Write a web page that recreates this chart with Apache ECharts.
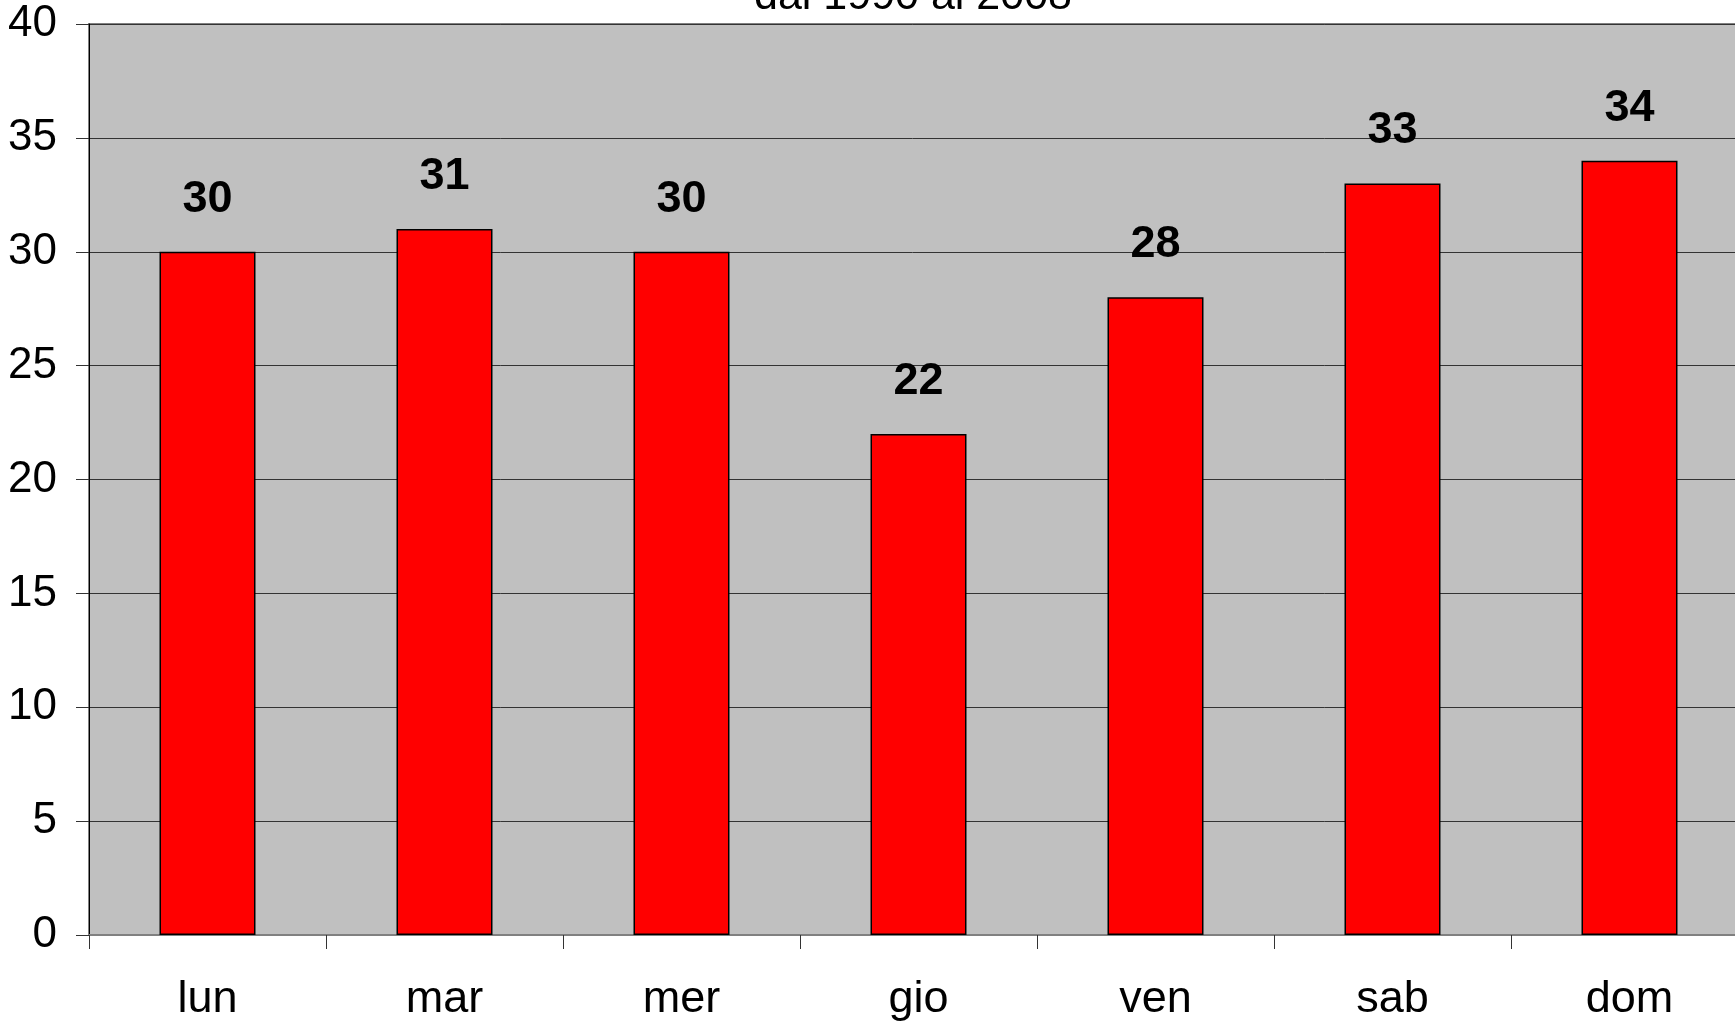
<!DOCTYPE html>
<html>
<head>
<meta charset="utf-8">
<script src="https://cdn.jsdelivr.net/npm/echarts@6/dist/echarts.min.js"></script>
<style>
  html, body { margin: 0; padding: 0; background: #fff; }
  #chart { width: 1735px; height: 1027px; }
</style>
</head>
<body>
<div id="chart"></div>
<script>
// giorni della settimana
var giorni = ["lun", "mar", "mer", "gio", "ven", "sab", "dom"];
var valori = [30, 31, 30, 22, 28, 33, 34];
var titolo = "dal 1990 al 2008";

var myChart = echarts.init(document.getElementById("chart"));
var option = {
  animation: false,
  backgroundColor: "#ffffff",
  title: {
    text: titolo,
    left: 908,
    top: -29,
    textAlign: "center",
    textStyle: {
      fontFamily: "Liberation Sans",
      fontWeight: "normal",
      fontSize: 43,
      color: "#000",
    },
  },
  grid: {
    left: 89,
    top: 24,
    right: -13,
    bottom: 92,
    outerBoundsMode: "none",
    show: true,
    backgroundColor: "#C0C0C0",
    borderColor: "#808080",
    borderWidth: 2,
  },
  xAxis: {
    type: "category",
    data: giorni,
    axisLine: { lineStyle: { color: "#808080", width: 2 } },
    axisTick: { show: true, length: 14, lineStyle: { color: "#333" } },
    axisLabel: {
      margin: 42,
      fontFamily: "Liberation Sans",
      fontSize: 45,
      color: "#000",
    },
  },
  yAxis: {
    type: "value",
    min: 0,
    max: 40,
    interval: 5,
    axisLine: { show: true, lineStyle: { color: "#000", width: 1 } },
    axisTick: { show: true, length: 13, lineStyle: { color: "#333" } },
    axisLabel: {
      margin: 32,
      fontFamily: "Liberation Sans",
      fontSize: 44,
      color: "#000",
    },
    splitLine: { show: true, lineStyle: { color: "#333", width: 1 } },
  },
  series: [
    {
      type: "bar",
      data: valori,
      barWidth: "40.5%",
      itemStyle: { color: "#FF0000", borderColor: "#000", borderWidth: 1.5 },
      label: {
        show: true,
        position: "top",
        distance: 30,
        fontFamily: "Liberation Sans",
        fontWeight: "bold",
        fontSize: 45,
        color: "#000",
      },
    },
  ],
};
myChart.setOption(option);
</script>
</body>
</html>
